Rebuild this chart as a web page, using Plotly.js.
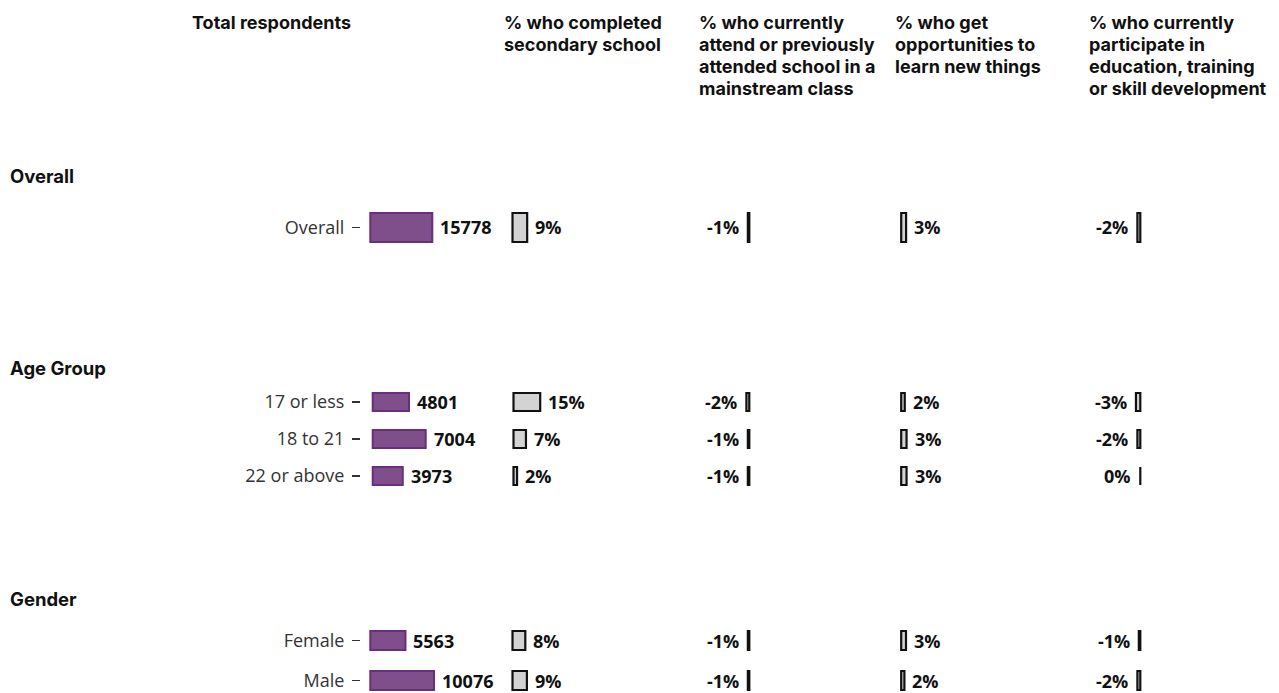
<!DOCTYPE html>
<html>
<head>
<meta charset="utf-8">
<script src="https://cdn.plot.ly/plotly-3.0.1.min.js"></script>
<style>html,body{margin:0;padding:0;background:#fff;}#chart{width:1279px;height:693px;}</style>
</head>
<body>
<div id="chart"></div>
<script>
// ---------------- data ----------------
const groupLabels = ["Overall", "Age Group", "Gender"];
const overallCategories = ["Overall"];
const ageCategories = ["17 or less", "18 to 21", "22 or above"];
const genderCategories = ["Female", "Male"];

const totalRespondents = [[15778], [4801, 7004, 3973], [5563, 10076]];
const pctCompletedSecondary = [[9], [15, 7, 2], [8, 9]];
const pctMainstreamClass = [[-1], [-2, -1, -1], [-1, -1]];
const pctLearnNewThings = [[3], [2, 3, 3], [3, 2]];
const pctParticipateEducation = [[-2], [-3, -2, 0], [-1, -2]];

const columnTitles = [
  ["Total respondents"],
  ["% who completed", "secondary school"],
  ["% who currently", "attend or previously", "attended school in a", "mainstream class"],
  ["% who get", "opportunities to", "learn new things"],
  ["% who currently", "participate in", "education, training", "or skill development"]
];

// ---------------- layout constants ----------------
const W = 1279, H = 693;
const groupCats = [overallCategories, ageCategories, genderCategories];
const columns = [totalRespondents, pctCompletedSecondary, pctMainstreamClass, pctLearnNewThings, pctParticipateEducation];
const isPct = [false, true, true, true, true];
const leftLabelCols = [false, false, true, false, true];

// per group vertical geometry (px)
const gFirst = [227.5, 402, 640.5];
const gSpacing = [40, 37, 40];
const gBar = [29, 18, 19];
const gLabelY = [176, 368, 599];

// per column horizontal domains (px)
const colDomain = [[361, 500], [505, 690], [690, 760], [895, 1080], [1080, 1150]];
const colZero = [
  [370.3, 372.7, 370.3],
  [512.5, 513.5, 512.5],
  [749.3, 749.3, 749.3],
  [901.2, 901.2, 901.2],
  [1140.3, 1140.3, 1140.3]
];
const colScale = [
  [62 / 15778, 53 / 7004, 63.7 / 10076],
  [1.63, 1.78, 1.6],
  [1.45, 1.45, 1.45],
  [1.63, 1.78, 1.6],
  [1.45, 1.45, 1.45]
];
const colTitleX = [190, 502, 697, 893, 1087];

const purpleFill = "#7f4f8b", purpleLine = "#6b2d7d";
const greyFill = "#d3d3d3", greyLine = "#111111";
const tickFont = {family: "Open Sans, sans-serif", size: 18, color: "#333333"};
const valueFont = {family: "Open Sans, sans-serif", size: 18, color: "#111", weight: "bold"};
const headFont = {family: "Inter, sans-serif", size: 18, color: "#111", weight: "bold"};
const groupFont = {family: "Inter, sans-serif", size: 18.5, color: "#111", weight: "bold"};

const traces = [];
const layout = {
  width: W, height: H,
  margin: {l: 0, r: 0, t: 0, b: 0},
  paper_bgcolor: "#fff", plot_bgcolor: "rgba(0,0,0,0)",
  showlegend: false,
  bargap: 0,
  annotations: []
};

for (let g = 0; g < 3; g++) {
  const cats = groupCats[g];
  const top = gFirst[g] - gSpacing[g] / 2;
  const bottom = Math.min(H, gFirst[g] + (cats.length - 0.5) * gSpacing[g]);
  const yName = g === 0 ? "y" : "y" + (g + 1);
  const yKey = g === 0 ? "yaxis" : "yaxis" + (g + 1);
  const xFirst = g * 5 + 1;
  layout[yKey] = {
    type: "category",
    categoryorder: "array",
    categoryarray: cats,
    domain: [1 - bottom / H, 1 - top / H],
    range: [-0.5 + (bottom - top) / gSpacing[g], -0.5],
    anchor: xFirst === 1 ? "x" : "x" + xFirst,
    showgrid: false, zeroline: false, showline: false,
    ticks: "outside", ticklen: 8, tickwidth: 1.4, tickcolor: "#333333",
    ticklabelstandoff: 4,
    tickfont: tickFont,
    fixedrange: true
  };
  for (let c = 0; c < 5; c++) {
    const idx = g * 5 + c + 1;
    const xName = idx === 1 ? "x" : "x" + idx;
    const xKey = idx === 1 ? "xaxis" : "xaxis" + idx;
    const zero = colZero[c][g], s = colScale[c][g];
    const d0 = colDomain[c][0];
    const d1 = colDomain[c][1];
    layout[xKey] = {
      domain: [d0 / W, d1 / W],
      range: [(d0 - zero) / s, (d1 - zero) / s],
      anchor: yName,
      showgrid: false, zeroline: false, showline: false, showticklabels: false, ticks: "",
      fixedrange: true
    };
    const vals = columns[c][g];
    traces.push({
      type: "bar", orientation: "h",
      x: vals, y: cats,
      xaxis: xName, yaxis: yName,
      width: cats.map(() => gBar[g] / gSpacing[g]),
      marker: {
        color: c === 0 ? purpleFill : greyFill,
        line: {color: c === 0 ? purpleLine : greyLine, width: c === 0 ? 2 : 2.2}
      },
      hoverinfo: "skip"
    });
    vals.forEach((v, i) => {
      const left = leftLabelCols[c];
      layout.annotations.push({
        xref: xName, yref: yName, x: v, y: cats[i],
        text: isPct[c] ? v + "%" : String(v),
        showarrow: false,
        xanchor: left ? "right" : "left",
        yanchor: "middle",
        xshift: left ? -7 : 6,
        font: valueFont
      });
    });
  }
  layout.annotations.push({
    xref: "paper", yref: "paper", x: 8 / W, y: 1 - gLabelY[g] / H,
    xanchor: "left", yanchor: "middle", showarrow: false,
    text: groupLabels[g], font: groupFont
  });
}

columnTitles.forEach((lines, c) => {
  lines.forEach((t, i) => {
    layout.annotations.push({
      xref: "paper", yref: "paper", x: colTitleX[c] / W, y: 1 - (22 + 22 * i) / H,
      xanchor: "left", yanchor: "middle", align: "left", showarrow: false,
      text: t, font: headFont
    });
  });
});

Plotly.newPlot("chart", traces, layout, {staticPlot: true, displayModeBar: false});
</script>
</body>
</html>
